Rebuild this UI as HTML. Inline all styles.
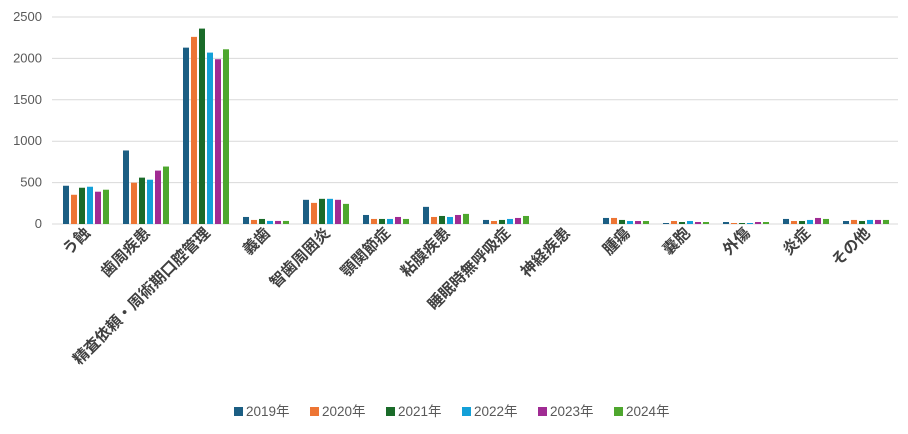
<!DOCTYPE html>
<html><head><meta charset="utf-8"><style>
body{margin:0;background:#fff;}
svg{display:block;font-family:"Liberation Sans","Noto Sans CJK JP",sans-serif;}
</style></head><body>
<svg id="chart" width="908" height="434" viewBox="0 0 908 434"></svg>
<script>
const categories=["う蝕","歯周疾患","精査依頼・周術期口腔管理","義歯","智歯周囲炎","顎関節症","粘膜疾患","睡眠時無呼吸症","神経疾患","腫瘍","嚢胞","外傷","炎症","その他"];
const seriesNames=["2019年","2020年","2021年","2022年","2023年","2024年"];
const s2019=[462,888,2130,85,292,109,207,49,0,73,12,24,61,36];
const s2020=[353,499,2260,49,255,61,85,36,0,73,36,12,36,49];
const s2021=[438,560,2360,61,304,61,97,49,0,49,24,12,36,36];
const s2022=[450,535,2070,37,304,61,85,61,0,36,36,12,49,49];
const s2023=[390,645,1990,37,292,85,109,73,0,36,24,24,73,49];
const s2024=[414,694,2110,37,243,61,122,97,0,36,24,24,61,49];
const yTicks=[0,500,1000,1500,2000,2500];
const series=[s2019,s2020,s2021,s2022,s2023,s2024];
const colors=["#1b5e83","#ed7534","#1a6b29","#13a0d8","#a02b93","#4ea72e"];
const svg=document.getElementById('chart');
const NS="http://www.w3.org/2000/svg";
const left=57,right=897,y0=224,yTop=17,yMax=2500;
const yScale=v=>y0-(v/yMax)*(y0-yTop);
const step=(right-left)/categories.length;
const xCenter=i=>left+step*(i+0.5);
function mk(t,a){const e=document.createElementNS(NS,t);for(const k in a)e.setAttribute(k,a[k]);svg.appendChild(e);return e;}
yTicks.forEach(t=>{
  const g=mk('line',{x1:52,x2:898,y1:yScale(t),y2:yScale(t),stroke:'#d9d9d9','stroke-width':1});
  
  
  const tx=mk('text',{x:42,y:yScale(t)+4,'text-anchor':'end','font-size':13,fill:'#595959'});
  tx.textContent=t;
  
  
});
const bw=6,bs=8;
categories.forEach((c,i)=>{
  series.forEach((s,j)=>{
    const x=xCenter(i)-24+j*bs;
    const y=yScale(s[i]);
    const r=mk('rect',{x:x,y:y,width:bw,height:y0-y,fill:colors[j]});
    
    
  });
  const lx=xCenter(i)+4,ly=234;
  const t=mk('text',{x:lx,y:ly,'text-anchor':'end','font-size':15.5,'font-weight':'bold',fill:'#404040',transform:`rotate(-45 ${lx} ${ly})`});
  t.textContent=c;
  
  
});
const legX=[234,310,386,462,538,614];
seriesNames.forEach((n,j)=>{
  const r=mk('rect',{x:legX[j],y:407,width:9,height:9,fill:colors[j]});
  
  
  const t=mk('text',{x:legX[j]+12,y:416,'font-size':13.5,fill:'#595959'});
  t.textContent=n;
  
  
});
</script>
</body></html>
